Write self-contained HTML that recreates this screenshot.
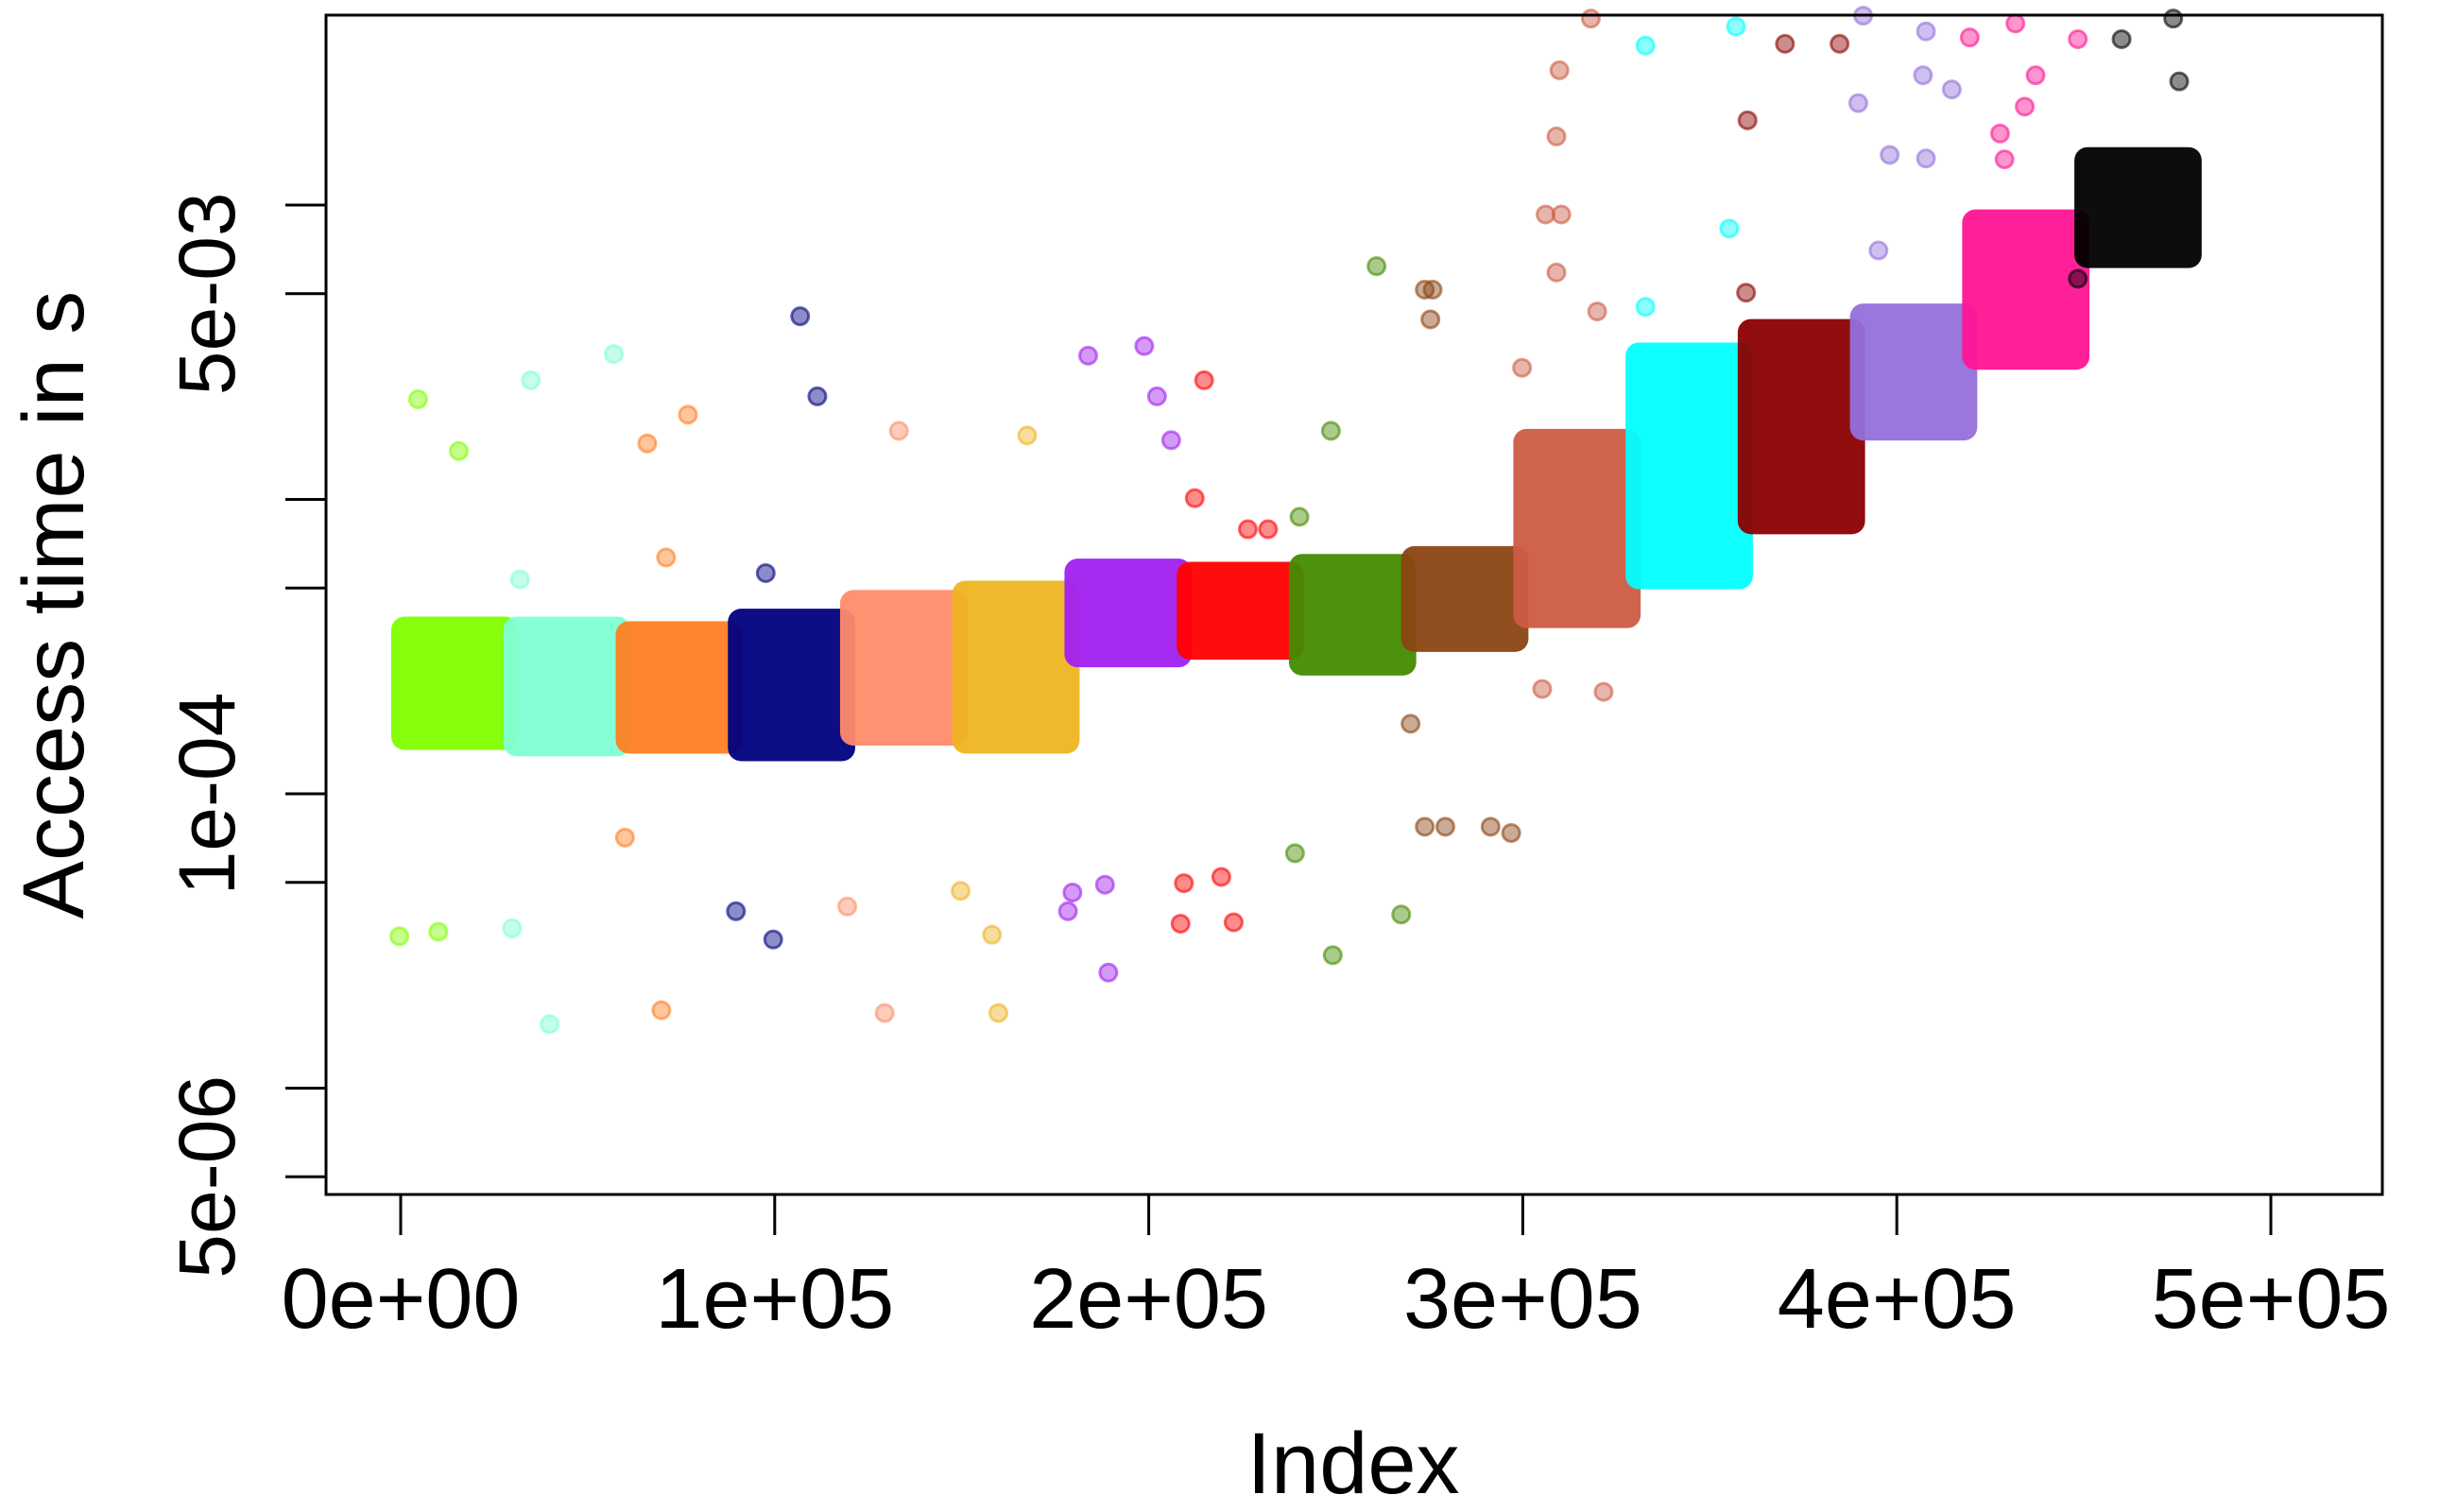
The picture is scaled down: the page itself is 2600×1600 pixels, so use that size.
<!DOCTYPE html>
<html><head><meta charset="utf-8"><style>
html,body{margin:0;padding:0;background:#fff}
svg{display:block}
text{font-family:"Liberation Sans",sans-serif;fill:#000}
</style></head><body>
<svg id="chart" width="2600" height="1600" viewBox="0 0 2600 1600">
<rect x="0" y="0" width="2600" height="1600" fill="#fff"/>
<g id="bands"></g>
<g id="outliers"></g>
<rect x="345" y="16" width="2176" height="1248" fill="none" stroke="#000" stroke-width="3"/>
<g id="xaxis"></g>
<g id="yaxis"></g>
<text x="1432" y="1580" font-size="92" text-anchor="middle">Index</text>
<text transform="translate(88,640) rotate(-90)" font-size="92" text-anchor="middle">Access time in s</text>
</svg>
<script>
const clusterStarts = [0,30000,60000,90000,120000,150000,180000,210000,240000,270000,300000,330000,360000,390000,420000,450000];
const clusterSize = 30000;
const clusterColors = ["#7FFF00","#7FFFD4","#FF7F24","#000080","#FF8C69","#EEB422","#A020F0","#FF0000","#458B00","#8B4513","#CD5B45","#00FFFF","#8B0000","#9370DB","#FF1493","#000000"];
const bandUpper = [3.94e-4,3.94e-4,3.80e-4,4.19e-4,4.85e-4,5.22e-4,6.20e-4,6.05e-4,6.43e-4,6.84e-4,1.71e-3,3.36e-3,4.04e-3,4.56e-3,9.52e-3,1.55e-2];
const bandLower = [1.43e-4,1.36e-4,1.39e-4,1.31e-4,1.48e-4,1.39e-4,2.73e-4,2.90e-4,2.56e-4,3.08e-4,3.71e-4,5.03e-4,7.73e-4,1.61e-3,2.80e-3,6.20e-3];
const outlierCluster = [0,0,0,0, 1,1,1,1,1, 2,2,2,2,2, 3,3,3,3,3, 4,4,4, 5,5,5,5, 6,6,6,6,6,6,6,6, 7,7,7,7,7,7,7,7, 8,8,8,8,8,8, 9,9,9,9,9,9,9,9, 10,10,10,10,10,10,10,10,10,10, 11,11,11,11, 12,12,12,12, 13,13,13,13,13,13,13,13, 14,14,14,14,14,14,14, 15,15,15,15,15];
const outlierIndex = [4650,15530,-350,10060, 34800,57000,29780,39840,31880, 65920,76800,59960,69700,70950, 106800,111400,89640,99600,97600, 133200,119400,129400, 167500,149700,158100,159800, 183800,198800,202200,206000,179600,188300,189200,178400, 214800,212300,226500,231900,209400,219400,208500,222700, 260900,239100,249200,267500,248700,240300, 273800,275900,275300,270000,273800,279300,291400,296900, 318200,309800,309000,306100,310300,309000,319900,305200,321600,299800, 332800,357000,355200,332800, 370100,384700,360100,359700, 391000,407800,407000,414700,389700,398100,407800,395100, 419500,431700,437100,434200,427600,428800,448400, 449100,460100,473900,475500,448400];
const outlierValue = [2.19e-3,1.46e-3,3.28e-5,3.40e-5, 2.54e-3,3.12e-3,3.49e-5,1.65e-5,5.35e-4, 1.55e-3,1.94e-3,7.10e-5,1.84e-5,6.35e-4, 4.19e-3,2.24e-3,3.99e-5,3.20e-5,5.62e-4, 1.71e-3,4.14e-5,1.80e-5, 1.65e-3,4.68e-5,3.32e-5,1.80e-5, 3.08e-3,3.32e-3,2.24e-3,1.59e-3,4.62e-5,4.91e-5,2.47e-5,3.99e-5, 2.54e-3,1.01e-3,7.92e-4,7.92e-4,4.97e-5,5.22e-5,3.62e-5,3.66e-5, 6.20e-3,6.28e-5,2.83e-5,3.89e-5,1.71e-3,8.73e-4, 5.16e-3,5.16e-3,4.09e-3,1.73e-4,7.73e-5,7.73e-5,7.73e-5,7.36e-5, 4.30e-2,2.87e-2,1.71e-2,9.29e-3,9.29e-3,5.90e-3,4.35e-3,2.27e-4,2.22e-4,2.80e-3, 3.48e-2,4.04e-2,8.32e-3,4.51e-3, 3.53e-2,3.53e-2,1.94e-2,5.04e-3, 4.40e-2,3.89e-2,2.76e-2,2.47e-2,2.22e-2,1.48e-2,1.44e-2,7.01e-3, 3.71e-2,4.14e-2,2.76e-2,2.16e-2,1.75e-2,1.43e-2,3.66e-2, 4.51e-2,3.66e-2,4.30e-2,2.63e-2,5.62e-3];
const xTickValues = [0,100000,200000,300000,400000,500000];
const xTickLabels = ["0e+00","1e+05","2e+05","3e+05","4e+05","5e+05"];
const yTickValues = [1e-2,5e-3,1e-3,5e-4,1e-4,5e-5,1e-5,5e-6];
const yLabelValues = [5e-3,1e-4,5e-6];
const yLabelTexts = ["5e-03","1e-04","5e-06"];

const NS = "http://www.w3.org/2000/svg";
function xs(i){ return 424 + i*0.003958; }
function ys(v){ return 840 - (Math.log10(v)+4)*311.5; }
function mk(tag, attrs, parent){ const e=document.createElementNS(NS,tag); for(const k in attrs) e.setAttribute(k,attrs[k]); parent.appendChild(e); return e; }

const bands = document.getElementById('bands');
clusterStarts.forEach((s,k)=>{
  const x0 = xs(s), x1 = xs(s+clusterSize);
  const yt = ys(bandUpper[k]), yb = ys(bandLower[k]);
  const r = mk('rect',{x:x0-10,y:yt-2,width:x1-x0+16,height:yb-yt+4,rx:14,fill:clusterColors[k],'fill-opacity':0.95},bands);
  
  
});
const outG = document.getElementById('outliers');
outlierIndex.forEach((ix,j)=>{
  const c = clusterColors[outlierCluster[j]];
  const y = ys(outlierValue[j]);
  if (y < 16 || y > 1264) return;
  const p = mk('circle',{cx:xs(ix),cy:y,r:9,fill:c,'fill-opacity':0.45,stroke:c,'stroke-opacity':0.6,'stroke-width':3},outG);
  
  
});
const xa = document.getElementById('xaxis');
xTickValues.forEach((v,k)=>{
  const x = xs(v);
  const t = mk('line',{x1:x,x2:x,y1:1264,y2:1307,stroke:'#000','stroke-width':3},xa);
  
  
  const l = mk('text',{x:x,y:1405,'font-size':90,'text-anchor':'middle'},xa);
  l.textContent = xTickLabels[k];
  
  
});
const ya = document.getElementById('yaxis');
yTickValues.forEach(v=>{
  const y = ys(v);
  const t = mk('line',{x1:302,x2:345,y1:y,y2:y,stroke:'#000','stroke-width':3},ya);
  
  
});
yLabelValues.forEach((v,k)=>{
  const y = ys(v);
  const l = mk('text',{transform:'translate(248,'+y+') rotate(-90)','font-size':84,'text-anchor':'middle'},ya);
  l.textContent = yLabelTexts[k];
  
  
});
</script>
</body></html>
